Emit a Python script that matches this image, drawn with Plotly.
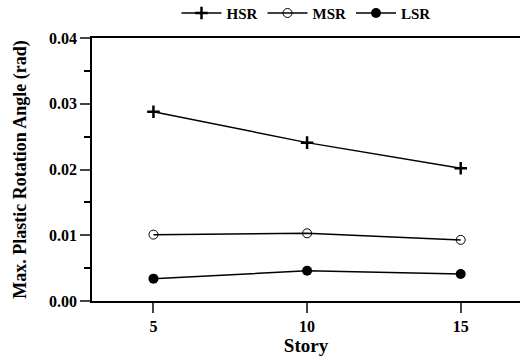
import plotly.graph_objects as go

stories = [5, 10, 15]
hsr = [0.0288, 0.0241, 0.0202]
msr = [0.0101, 0.0103, 0.0093]
lsr = [0.0034, 0.0046, 0.0041]

font = "Liberation Serif"
fig = go.Figure()
fig.add_trace(go.Scatter(x=stories, y=hsr, name="HSR", mode="lines+markers",
                         line=dict(color="black", width=1.5),
                         marker=dict(symbol="cross-thin", size=9, line=dict(color="black", width=2.5))))
fig.add_trace(go.Scatter(x=stories, y=msr, name="MSR", mode="lines+markers",
                         line=dict(color="black", width=1.5),
                         marker=dict(symbol="circle-open", size=9, color="black", line=dict(color="black", width=1))))
fig.add_trace(go.Scatter(x=stories, y=lsr, name="LSR", mode="lines+markers",
                         line=dict(color="black", width=1.5),
                         marker=dict(symbol="circle", size=10, color="black")))

fig.update_layout(
    width=520, height=358,
    margin=dict(l=92, r=0, t=33, b=57),
    paper_bgcolor="white", plot_bgcolor="white",
    font=dict(family=font, color="black", size=16),
    showlegend=True,
    legend=dict(orientation="h", x=0.5, xanchor="center", yref="container", y=0.963, yanchor="middle",
                font=dict(family=font, size=15, color="black", weight="bold"),
                itemwidth=40, tracegroupgap=0, bgcolor="rgba(0,0,0,0)"),
    xaxis=dict(range=[3, 16.93], tickvals=stories, ticks="outside", ticklen=10, tickwidth=1.5,
               showline=True, linecolor="black", linewidth=1.8, mirror=True, showgrid=False, zeroline=False,
               tickfont=dict(family=font, size=16, weight="bold"),
               title=dict(text="Story", font=dict(family=font, size=19, weight="bold"), standoff=2)),
    yaxis=dict(range=[0, 0.04], dtick=0.01, tickformat=".2f", ticks="outside", ticklen=10, tickwidth=1.5,
               minor=dict(dtick=0.005, ticks="outside", ticklen=6, tickwidth=1.5, tickcolor="black"),
               showline=True, linecolor="black", linewidth=1.8, showgrid=False, zeroline=False,
               tickfont=dict(family=font, size=16, weight="bold"),
               title=dict(text="Max. Plastic Rotation Angle (rad)", font=dict(family=font, size=18, weight="bold"), standoff=18)),
)
fig.write_html("out.html")
